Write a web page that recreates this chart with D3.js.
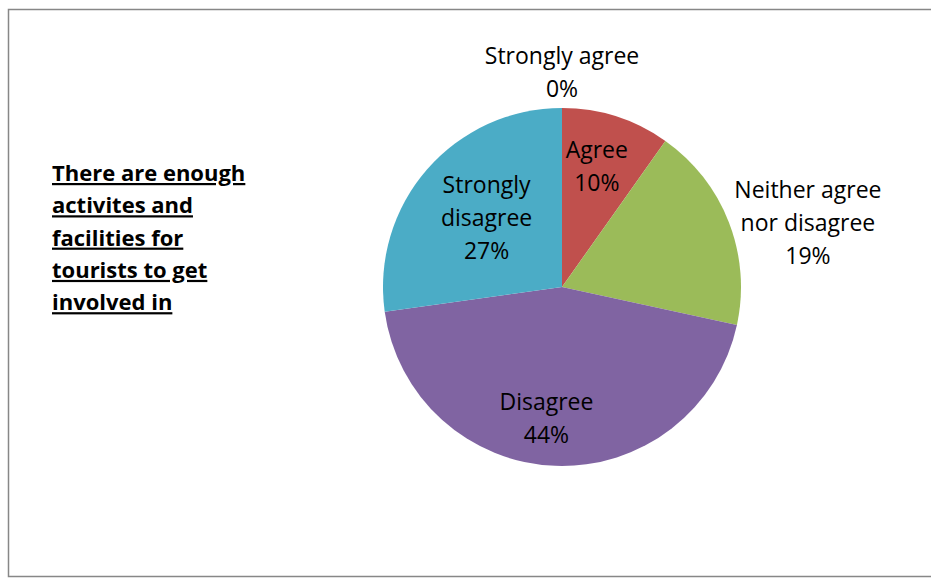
<!DOCTYPE html>
<html>
<head>
<meta charset="utf-8">
<script src="https://cdn.jsdelivr.net/npm/d3@7"></script>
<style>
  body { margin: 0; background: #fff; }
  text { font-family: "Open Sans", "Noto Sans", sans-serif; }
</style>
</head>
<body>
<div id="chart"></div>
<script>
// data
var categories = ["Strongly agree", "Agree", "Neither agree nor disagree", "Disagree", "Strongly disagree"];
var values = [0, 9.8, 18.6, 44.4, 27.2];
var colors = ["#4F81BD", "#C0504D", "#9BBB59", "#8064A2", "#4BACC6"];
var labelLines = [["Strongly agree"], ["Agree"], ["Neither agree", "nor disagree"], ["Disagree"], ["Strongly", "disagree"]];
var titleLines = ["There are enough", "activites and", "facilities for", "tourists to get", "involved in"];

var width = 931, height = 579;
var cx = 562, cy = 287, radius = 179;
// where each label sits: fraction of the radius, and a nudge off the mid angle (degrees)
var labelRadius = [1.2, 0.70, 1.42, 0.74, 0.57];
var labelShift = [0, -1.5, 6.6, 4.6, 1.3];
var lineHeight = 33;

var svg = d3.select("#chart").append("svg")
    .attr("width", width)
    .attr("height", height);

svg.append("rect")
    .attr("x", 8.5)
    .attr("y", 9.5)
    .attr("width", 940)
    .attr("height", 567)
    .attr("fill", "#fff")
    .attr("stroke", "#878787")
    .attr("stroke-width", 1.5);

var data = categories.map(function (c, i) {
    return { name: c, value: values[i], color: colors[i], lines: labelLines[i], k: labelRadius[i], shift: labelShift[i] };
});
var total = d3.sum(values);
var fmt = d3.format(".0%");

var pie = d3.pie()
    .sort(null)
    .value(function (d) { return d.value; });

var arc = d3.arc()
    .innerRadius(0)
    .outerRadius(radius);

var g = svg.append("g")
    .attr("transform", "translate(" + cx + "," + cy + ")");

var arcs = pie(data);

g.selectAll("path")
    .data(arcs)
    .enter().append("path")
    .attr("d", arc)
    .attr("fill", function (d) { return d.data.color; });

// labels
g.selectAll(".label")
    .data(arcs)
    .enter().append("text")
    .attr("class", "label")
    .attr("text-anchor", "middle")
    .style("font-size", "23px")
    .attr("fill", "#000")
    .each(function (d) {
        var r = d.data.k * radius;
        var a = (d.startAngle + d.endAngle) / 2 + d.data.shift * Math.PI / 180;
        var px = r * Math.sin(a), py = -r * Math.cos(a);
        var lines = d.data.lines.concat([fmt(d.data.value / total)]);
        var y0 = py - (lines.length - 1) * lineHeight / 2;
        var t = d3.select(this);
        lines.forEach(function (l, i) {
            t.append("tspan")
                .attr("x", px)
                .attr("y", y0 + i * lineHeight)
                .attr("dy", "0.35em")
                .text(l);
        });
    });

// title
svg.append("g")
    .selectAll("text")
    .data(titleLines)
    .enter().append("text")
    .attr("x", 52)
    .attr("y", function (d, i) { return 181 + i * 32.3; })
    .style("font-size", "22px")
    .style("font-weight", "bold")
    .style("text-decoration", "underline")
    .attr("fill", "#000")
    .text(function (d) { return d; });
</script>
</body>
</html>
